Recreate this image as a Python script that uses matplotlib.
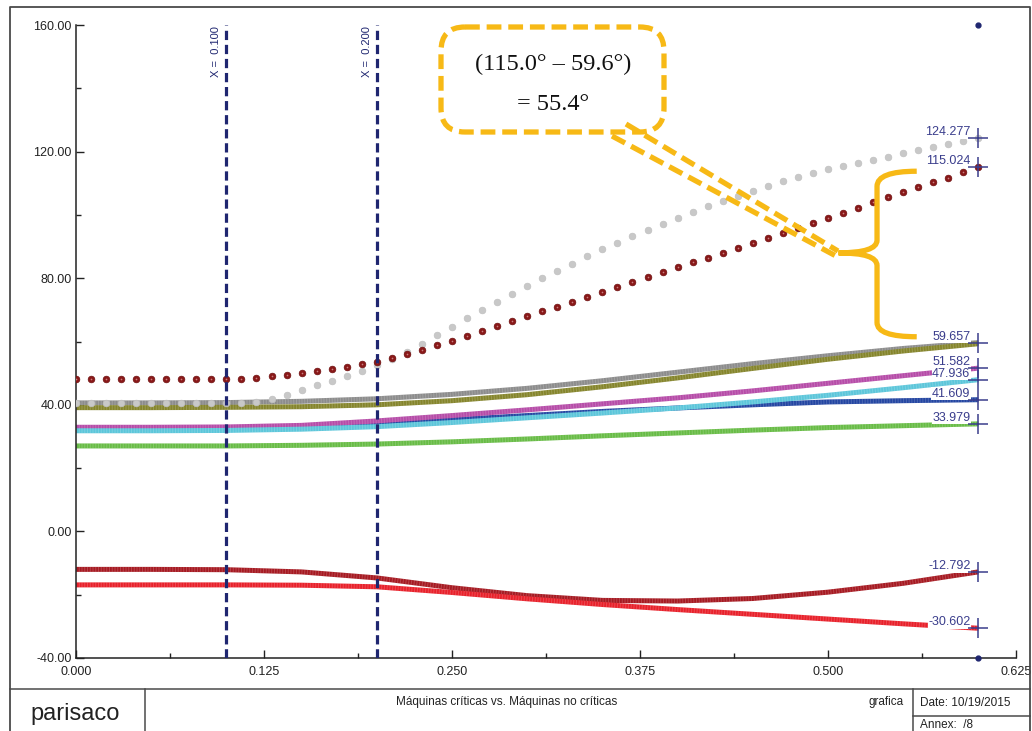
import numpy as np
import matplotlib.pyplot as plt
import matplotlib.ticker as mticker
from matplotlib.path import Path
from matplotlib.patches import PathPatch, FancyBboxPatch

plt.rcParams['font.family'] = ['Liberation Sans', 'DejaVu Sans']
plt.rcParams['axes.unicode_minus'] = False

# ---- data -------------------------------------------------------------
x_line = [0.00, 0.05, 0.10, 0.15, 0.20, 0.25, 0.30, 0.35, 0.40, 0.45, 0.50, 0.55, 0.60]

grey_line = [40.6, 40.6, 40.7, 41.1, 41.9, 43.3, 45.2, 47.6, 50.3, 53.0, 55.5, 57.8, 59.657]
olive_line = [39.1, 39.1, 39.2, 39.4, 40.0, 41.3, 43.2, 45.7, 48.5, 51.5, 54.4, 57.0, 59.3]
magenta_line = [32.9, 32.9, 33.0, 33.5, 34.9, 36.6, 38.4, 40.3, 42.2, 44.4, 46.8, 49.2, 51.582]
cyan_line = [31.8, 31.8, 31.9, 32.3, 33.1, 34.4, 35.9, 37.4, 39.0, 40.9, 43.0, 45.4, 47.936]
blue_line = [32.3, 32.3, 32.4, 32.9, 34.0, 35.3, 36.6, 37.9, 39.0, 40.0, 40.9, 41.3, 41.609]
green_line = [27.0, 27.0, 27.0, 27.2, 27.6, 28.3, 29.2, 30.2, 31.1, 32.0, 32.8, 33.4, 33.979]
darkred_line = [-12.0, -12.0, -12.1, -12.8, -14.7, -17.8, -20.3, -21.8, -22.0, -21.2, -19.2, -16.4, -12.792]
red_line = [-16.9, -16.9, -16.9, -17.0, -17.5, -19.3, -21.3, -23.1, -24.7, -26.2, -27.7, -29.2, -30.602]

x_dots = [i / 100 for i in range(61)]
grey_dots = [40.7, 40.7, 40.7, 40.7, 40.7, 40.7, 40.7, 40.7, 40.7, 40.7, 40.7,
             40.7, 41.0, 41.9, 43.2, 44.6, 46.1, 47.6, 49.2, 50.8, 52.5,
             54.6, 56.8, 59.3, 61.9, 64.5, 67.3, 70.0, 72.5, 75.0, 77.5,
             80.0, 82.3, 84.6, 86.9, 89.1, 91.2, 93.3, 95.3, 97.2, 99.1,
             101.0, 102.7, 104.4, 106.1, 107.7, 109.2, 110.7, 112.0, 113.3, 114.4,
             115.4, 116.3, 117.4, 118.4, 119.4, 120.4, 121.5, 122.4, 123.3, 124.277]
darkred_dots = [48.2, 48.2, 48.2, 48.2, 48.2, 48.2, 48.2, 48.2, 48.2, 48.2, 48.2,
                48.3, 48.6, 49.0, 49.4, 50.0, 50.6, 51.3, 52.0, 52.8, 53.6,
                54.8, 56.1, 57.4, 58.8, 60.2, 61.7, 63.3, 64.8, 66.4, 67.9,
                69.5, 71.0, 72.6, 74.1, 75.7, 77.2, 78.8, 80.3, 81.9, 83.4,
                85.0, 86.5, 88.1, 89.6, 91.2, 92.7, 94.3, 95.8, 97.4, 98.9,
                100.5, 102.3, 104.0, 105.6, 107.2, 108.8, 110.3, 111.8, 113.4, 115.024]

end_values = [124.277, 115.024, 59.657, 51.582, 47.936, 41.609, 33.979, -12.792, -30.602]
x_end = 0.6
cursor_x = [0.1, 0.2]

x_ticks = [0.0, 0.125, 0.25, 0.375, 0.5, 0.625]
y_ticks = [-40, 0, 40, 80, 120, 160]

navy = '#1f2670'
label_col = '#3a3d8c'
gold = '#f7b916'

fig = plt.figure(figsize=(10.32, 7.31), dpi=100)
ax = fig.add_axes([76 / 1032, 1 - 658 / 731, 940 / 1032, 633 / 731])

# drawing order matters where the bands overlap
series = [
    (grey_line, '#8c8c8c'),
    (olive_line, '#85852c'),
    (blue_line, '#2446a2'),
    (magenta_line, '#b64ca8'),
    (cyan_line, '#5cc6da'),
    (green_line, '#68bc46'),
    (darkred_line, '#a61a22'),
    (red_line, '#e8212b'),
]
for vals, col in series:
    ax.plot(x_line, vals, color=col, lw=3.6, solid_capstyle='butt', zorder=2)
    # faint striping like the original's stacked markers
    ax.plot(x_line, vals, color='white', alpha=0.18, lw=3.6, ls=(0, (0.2, 0.35)), zorder=2)

ax.plot(x_dots, grey_dots, 'o', ms=4.8, color='#c8c8c8', mec='#c0c0c0', mew=0.5, zorder=3)
ax.plot(x_dots, darkred_dots, 'o', ms=4.8, color='#8a1818', mec='#6f1010', mew=0.5, zorder=4)
ax.plot(x_dots, darkred_dots, 'o', ms=1.2, color='#c98080', mew=0, zorder=4)

for xc in cursor_x:
    ax.axvline(xc, color=navy, lw=2.3, ls=(0, (2.9, 1.5)), zorder=6)
    ax.annotate('X =  %.3f' % xc, (xc, 160), xytext=(-5, -1), textcoords='offset pixels',
                rotation=90, ha='right', va='top', fontsize=8, color=navy, zorder=6)

for v in end_values:
    ax.annotate('%.3f' % v, (x_end, v), xytext=(-8, 6), textcoords='offset pixels',
                ha='right', va='center', fontsize=9, color=label_col, zorder=7,
                bbox=dict(boxstyle='square,pad=0.05', fc='white', ec='none'))
    ax.plot([x_end], [v], '+', ms=14, mew=1.1, color=label_col, zorder=8)

ax.plot([x_end, x_end], [160, -40], 'o', ms=3.5, color=navy, clip_on=False, zorder=8, ls='none')

# brace between 115.0 and 59.6
bx, tip, right = 0.5326, 0.507, 0.559
verts = [(right, 113.8), (bx, 113.8), (bx, 109.0), (bx, 92.0), (bx, 88.0), (tip, 88.0),
         (bx, 88.0), (bx, 84.0), (bx, 66.0), (bx, 61.5), (right, 61.5)]
codes = [Path.MOVETO, Path.CURVE3, Path.CURVE3, Path.LINETO, Path.CURVE3, Path.CURVE3,
         Path.CURVE3, Path.CURVE3, Path.LINETO, Path.CURVE3, Path.CURVE3]
ax.add_patch(PathPatch(Path(verts, codes), fc='none', ec=gold, lw=3.8, capstyle='butt', zorder=9))

ax.set_xlim(0, 0.625)
ax.set_ylim(-40, 160)
ax.set_xticks(x_ticks)
ax.set_yticks(y_ticks)
ax.xaxis.set_minor_locator(mticker.MultipleLocator(0.0625))
ax.yaxis.set_minor_locator(mticker.MultipleLocator(20))
ax.xaxis.set_major_formatter(mticker.FormatStrFormatter('%.3f'))
ax.yaxis.set_major_formatter(mticker.FormatStrFormatter('%.2f'))
ax.tick_params(which='major', direction='in', length=6, width=1, labelsize=9, colors='#222222')
ax.tick_params(axis='x', which='major', pad=6)
ax.tick_params(axis='y', which='major', pad=3)
ax.tick_params(which='minor', direction='in', length=3.5, width=1, colors='#222222')
for s in ['top', 'right']:
    ax.spines[s].set_visible(False)
for s in ['left', 'bottom']:
    ax.spines[s].set_linewidth(1.1)
    ax.spines[s].set_color('#222222')

# ---- overlay in pixel coordinates: frame, footer, callout ---------------
ov = fig.add_axes([0, 0, 1, 1], zorder=5)
ov.set_xlim(0, 1032)
ov.set_ylim(731, 0)
ov.axis('off')
ov.patch.set_alpha(0)

fc = '#4a4a4a'
ov.plot([10, 10, 1030, 1030], [731, 7, 7, 731], color=fc, lw=1.3)
ov.plot([10, 1030], [689, 689], color=fc, lw=1.1)
ov.plot([145, 145], [689, 731], color=fc, lw=1.1)
ov.plot([913, 913], [689, 731], color=fc, lw=1.1)
ov.plot([913, 1030], [716, 716], color=fc, lw=1.1)

ov.text(75, 714, 'parisaco', ha='center', va='center', fontsize=17, color='#222222')
ov.text(507, 702, 'Máquinas críticas vs. Máquinas no críticas', ha='center', va='center',
        fontsize=8.5, color='#222222')
ov.text(904, 702, 'grafica', ha='right', va='center', fontsize=8.5, color='#222222')
ov.text(920, 703, 'Date: 10/19/2015', ha='left', va='center', fontsize=8.5, color='#222222')
ov.text(920, 725, 'Annex:  /8', ha='left', va='center', fontsize=8.5, color='#222222')

box = FancyBboxPatch((441, 27), 223, 105, boxstyle='round,pad=0,rounding_size=24',
                     fc='white', ec=gold, lw=3.8, ls=(0, (2.8, 1.3)))
ov.add_patch(box)
ov.text(553, 64, '(115.0° – 59.6°)', ha='center', va='center', fontsize=17.5,
        family=['Liberation Serif', 'DejaVu Serif'], color='#111111')
ov.text(553, 104, '= 55.4°', ha='center', va='center', fontsize=17.5,
        family=['Liberation Serif', 'DejaVu Serif'], color='#111111')
ov.plot([626, 838], [124, 251], color=gold, lw=3.8, ls=(0, (2.8, 1.3)), solid_capstyle='butt')
ov.plot([612, 836], [136, 256], color=gold, lw=3.8, ls=(0, (2.8, 1.3)), solid_capstyle='butt')

fig.savefig('out.png', dpi=100)
